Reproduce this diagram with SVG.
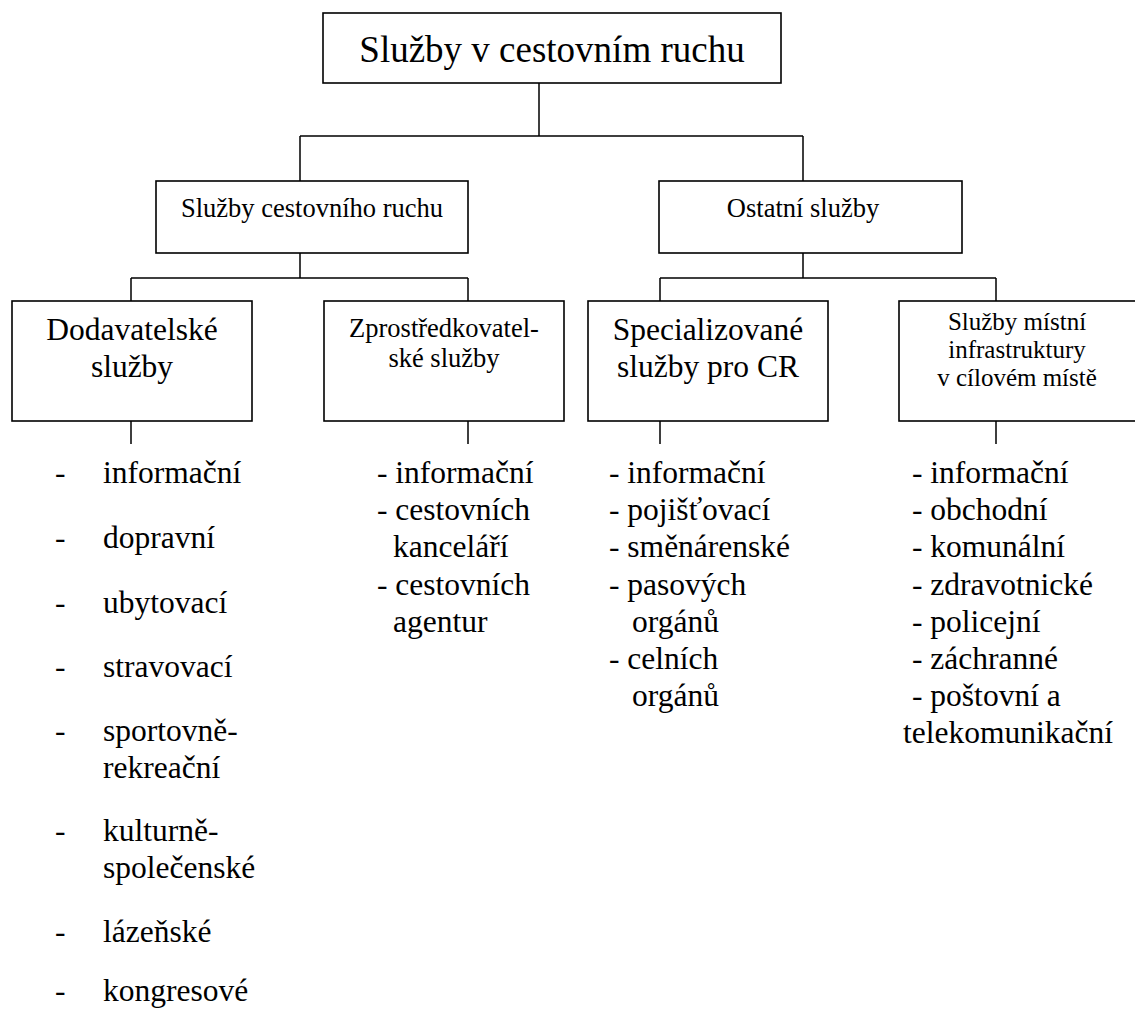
<svg xmlns="http://www.w3.org/2000/svg" width="1135" height="1010" viewBox="0 0 1135 1010" font-family="'Liberation Serif', 'Times New Roman', Tinos, serif">
<style>
.box{fill:#fff;stroke:#000;stroke-width:1.6}
.ln{stroke:#000;stroke-width:1.5;fill:none}
text{font-family:'Liberation Serif', 'Times New Roman', Tinos, serif;fill:#000}
.t37{font-size:37px}
.t32{font-size:31.5px}
.t26{font-size:26.5px}
.t25{font-size:25px}
.c{text-anchor:middle}
</style>
<rect width="1135" height="1010" fill="#fff"/>
<g id="connectors">
<path class="ln" d="M539,83 V136 M300,136 H803 M300,136 V181 M803,136 V181"/>
<path class="ln" d="M300,253 V278 M131,278 H468 M131,278 V301 M468,278 V301"/>
<path class="ln" d="M803,253 V278 M660,278 H996 M660,278 V301 M996,278 V301"/>
<path class="ln" d="M131,421 V444 M468,421 V444 M660,421 V444 M996,421 V444"/>
</g>
<g id="root">
<rect class="box" x="323" y="13" width="458" height="70"/>
<text class="t37 c" x="552" y="62">Služby v cestovním ruchu</text>
</g>
<g id="sluzby-cr">
<rect class="box" x="156" y="181" width="312" height="72"/>
<text class="t26 c" x="312" y="217">Služby cestovního ruchu</text>
</g>
<g id="ostatni">
<rect class="box" x="659" y="181" width="303" height="72"/>
<text class="t26 c" x="803" y="217">Ostatní služby</text>
</g>
<g id="dodavatelske">
<rect class="box" x="12" y="301" width="240" height="120"/>
<text class="t32 c" x="132" y="340">Dodavatelské</text>
<text class="t32 c" x="132" y="377">služby</text>
</g>
<g id="zprostredkovatelske">
<rect class="box" x="324" y="301" width="240" height="120"/>
<text class="t26 c" x="444" y="337">Zprostředkovatel-</text>
<text class="t26 c" x="444" y="367">ské služby</text>
</g>
<g id="specializovane">
<rect class="box" x="588" y="301" width="240" height="120"/>
<text class="t32 c" x="708" y="340">Specializované</text>
<text class="t32 c" x="708" y="377">služby pro CR</text>
</g>
<g id="mistni">
<rect class="box" x="899" y="301" width="250" height="120"/>
<text class="t25 c" x="1017" y="330">Služby místní</text>
<text class="t25 c" x="1017" y="358">infrastruktury</text>
<text class="t25 c" x="1017" y="386">v cílovém místě</text>
</g>
<g id="list-dodavatelske" class="t32">
<text x="55" y="483">-</text><text x="103" y="483">informační</text>
<text x="55" y="548">-</text><text x="103" y="548">dopravní</text>
<text x="55" y="613">-</text><text x="103" y="613">ubytovací</text>
<text x="55" y="677">-</text><text x="103" y="677">stravovací</text>
<text x="55" y="741">-</text><text x="103" y="741">sportovně-</text>
<text x="103" y="778">rekreační</text>
<text x="55" y="841">-</text><text x="103" y="841">kulturně-</text>
<text x="103" y="878">společenské</text>
<text x="55" y="942">-</text><text x="103" y="942">lázeňské</text>
<text x="55" y="1001">-</text><text x="103" y="1001">kongresové</text>
</g>
<g id="list-zprostredkovatelske" class="t32">
<text x="377" y="483">- informační</text>
<text x="377" y="520">- cestovních</text>
<text x="393" y="557">kanceláří</text>
<text x="377" y="595">- cestovních</text>
<text x="393" y="632">agentur</text>
</g>
<g id="list-specializovane" class="t32">
<text x="609" y="483">- informační</text>
<text x="609" y="520">- pojišťovací</text>
<text x="609" y="557">- směnárenské</text>
<text x="609" y="595">- pasových</text>
<text x="632" y="632">orgánů</text>
<text x="609" y="669">- celních</text>
<text x="632" y="706">orgánů</text>
</g>
<g id="list-mistni" class="t32">
<text x="912" y="483">- informační</text>
<text x="912" y="520">- obchodní</text>
<text x="912" y="557">- komunální</text>
<text x="912" y="595">- zdravotnické</text>
<text x="912" y="632">- policejní</text>
<text x="912" y="669">- záchranné</text>
<text x="912" y="706">- poštovní a</text>
<text x="903" y="743">telekomunikační</text>
</g>
</svg>
